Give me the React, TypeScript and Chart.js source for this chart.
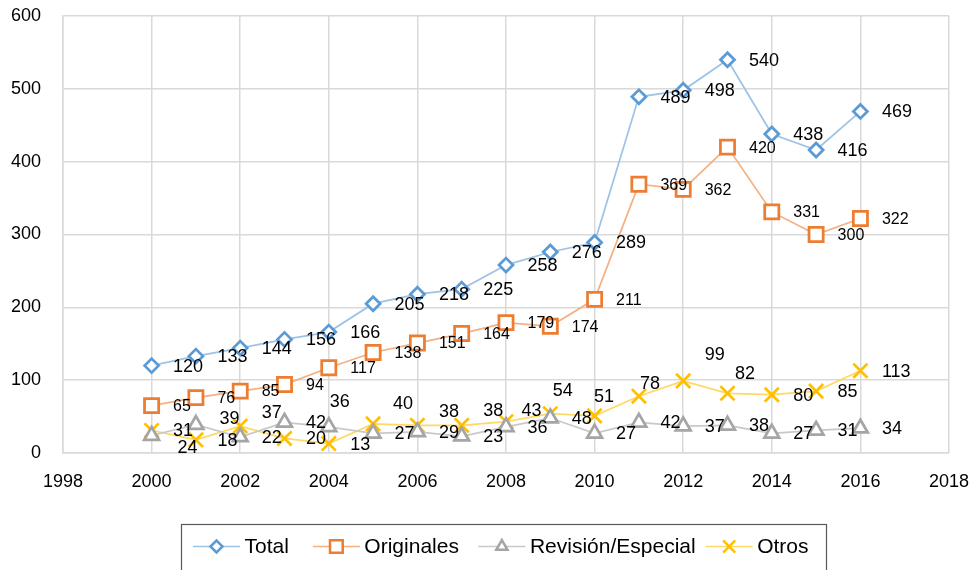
import React, { useEffect, useRef } from "react";
import { Chart, registerables } from "chart.js";

Chart.register(...registerables);

// ---------- data ----------
const YEARS = [2000, 2001, 2002, 2003, 2004, 2005, 2006, 2007, 2008, 2009, 2010, 2011, 2012, 2013, 2014, 2015, 2016];
const TOTAL = [120, 133, 144, 156, 166, 205, 218, 225, 258, 276, 289, 489, 498, 540, 438, 416, 469];
const ORIGINALES = [65, 76, 85, 94, 117, 138, 151, 164, 179, 174, 211, 369, 362, 420, 331, 300, 322];
const REVISION = [24, 39, 22, 42, 36, 27, 29, 23, 36, 48, 27, 42, 37, 38, 27, 31, 34];
const OTROS = [31, 18, 37, 20, 13, 40, 38, 38, 43, 54, 51, 78, 99, 82, 80, 85, 113];
const SERIES_NAMES = ["Total", "Originales", "Revisión/Especial", "Otros"];
const X_MIN = 1998;
const X_MAX = 2018;
const X_STEP = 2;
const Y_MIN = 0;
const Y_MAX = 600;
const Y_STEP = 100;

// ---------- styles ----------
const FONT = "'Liberation Sans', Arial, Helvetica, sans-serif";
const STYLES = [
  { line: "#9dc3e6", point: "#5b9bd5", shape: "rectRot", radius: 7, labelSize: 18, legendR: 6 },
  { line: "#f4b183", point: "#ed7d31", shape: "rect", radius: 10, labelSize: 16, legendR: 9 },
  { line: "#c9c9c9", point: "#a5a5a5", shape: "triangle", radius: 8.5, labelSize: 18, legendR: 6.5 },
  { line: "#ffd966", point: "#ffc000", shape: "crossRot", radius: 10, labelSize: 18, legendR: 8.5 },
];
// manual label nudges (relative to the default "right" placement)
const LABEL_NUDGES: Record<number, [number, number]>[] = [
  {},
  {},
  { 0: [4.5, 12], 1: [2, -7], 4: [-20.5, -26] },
  {
    2: [0, -14], 5: [-1.5, -21], 6: [0, -14], 7: [0, -15.7], 8: [-6, -12],
    9: [-19, -24], 10: [-22, -20], 11: [-20.5, -13], 12: [0, -26.7], 13: [-14, -20],
  },
];
const LEGEND_GAPS = [24, 19.5, 10, 0];

function drawMarker(ctx: CanvasRenderingContext2D, shape: string, x: number, y: number, r: number) {
  ctx.beginPath();
  if (shape === "rectRot") {
    ctx.moveTo(x - r, y);
    ctx.lineTo(x, y - r);
    ctx.lineTo(x + r, y);
    ctx.lineTo(x, y + r);
    ctx.closePath();
    ctx.fill();
    ctx.stroke();
  } else if (shape === "rect") {
    const h = r * Math.SQRT1_2;
    ctx.rect(x - h, y - h, 2 * h, 2 * h);
    ctx.fill();
    ctx.stroke();
  } else if (shape === "triangle") {
    const s = r * Math.sin(Math.PI / 3);
    ctx.moveTo(x, y - r);
    ctx.lineTo(x + s, y + r / 2);
    ctx.lineTo(x - s, y + r / 2);
    ctx.closePath();
    ctx.fill();
    ctx.stroke();
  } else {
    const h = r * Math.SQRT1_2;
    ctx.moveTo(x - h, y - h);
    ctx.lineTo(x + h, y + h);
    ctx.moveTo(x + h, y - h);
    ctx.lineTo(x - h, y + h);
    ctx.stroke();
  }
}

const overlayPlugin = {
  id: "overlay",
  afterDatasetsDraw(chart: any) {
    const ctx: CanvasRenderingContext2D = chart.ctx;
    ctx.save();
    // data labels
    chart.data.datasets.forEach((ds: any, di: number) => {
      const meta = chart.getDatasetMeta(di);
      ctx.font = `${STYLES[di].labelSize}px ${FONT}`;
      ctx.fillStyle = "#000";
      ctx.textAlign = "left";
      ctx.textBaseline = "middle";
      meta.data.forEach((pt: any, i: number) => {
        const nudge = LABEL_NUDGES[di][i] || [0, 0];
        const v = ds.data[i].y;
        ctx.fillText(String(v), pt.x + 21.5 + nudge[0], pt.y + 1 + nudge[1]);
      });
    });
    ctx.restore();
  },
  afterDraw(chart: any) {
    const ctx: CanvasRenderingContext2D = chart.ctx;
    ctx.save();
    // legend box
    ctx.strokeStyle = "#595959";
    ctx.lineWidth = 1.2;
    ctx.strokeRect(181.5, 524.5, 645, 70);
    // legend items
    const cy = 546.5;
    let x = 193;
    ctx.font = `21px ${FONT}`;
    ctx.textBaseline = "middle";
    ctx.textAlign = "left";
    SERIES_NAMES.forEach((name, i) => {
      const st = STYLES[i];
      ctx.strokeStyle = st.line;
      ctx.lineWidth = 1.5;
      ctx.beginPath();
      ctx.moveTo(x, cy);
      ctx.lineTo(x + 47, cy);
      ctx.stroke();
      ctx.strokeStyle = st.point;
      ctx.fillStyle = "#fff";
      ctx.lineWidth = 2.5;
      drawMarker(ctx, st.shape, x + 23.5, cy, st.legendR);
      ctx.fillStyle = "#000";
      ctx.fillText(name, x + 51.5, cy + 1);
      const w = ctx.measureText(name).width;
      x = x + 51.5 + w + LEGEND_GAPS[i];
    });
    ctx.restore();
  },
};

export default function App() {
  const ref = useRef<HTMLCanvasElement | null>(null);

  useEffect(() => {
    if (!ref.current) return;
    const series = [TOTAL, ORIGINALES, REVISION, OTROS];
    const chart = new Chart(ref.current, {
      type: "line",
      data: {
        datasets: series.map((vals, i) => ({
          label: SERIES_NAMES[i],
          data: YEARS.map((yr, j) => ({ x: yr, y: vals[j] })),
          borderColor: STYLES[i].line,
          borderWidth: 1.75,
          backgroundColor: "#fff",
          pointStyle: STYLES[i].shape as any,
          pointRadius: STYLES[i].radius,
          pointBorderColor: STYLES[i].point,
          pointBackgroundColor: "#fff",
          pointBorderWidth: 2.75,
          tension: 0,
          fill: false,
        })),
      },
      options: {
        responsive: false,
        animation: false,
        devicePixelRatio: 1,
        layout: { autoPadding: false, padding: { left: 0, right: 22, top: 16, bottom: 77 } },
        plugins: { legend: { display: false }, tooltip: { enabled: false } },
        scales: {
          x: {
            type: "linear",
            min: X_MIN,
            max: X_MAX,
            offset: false,
            afterFit: (s: any) => {
              s.height = 40;
              s.paddingLeft = 0;
              s.paddingRight = 0;
            },
            ticks: {
              stepSize: X_STEP,
              padding: 18,
              color: "#000",
              font: { family: FONT, size: 18 },
              callback: (v: any) => String(v),
              maxRotation: 0,
            },
            grid: { color: "#d9d9d9", lineWidth: 1.5, drawTicks: false },
            border: { color: "#d9d9d9", width: 1.5 },
          },
          y: {
            min: Y_MIN,
            max: Y_MAX,
            afterFit: (s: any) => {
              s.width = 63;
              s.paddingTop = 0;
              s.paddingBottom = 0;
            },
            ticks: {
              stepSize: Y_STEP,
              padding: 22,
              color: "#000",
              font: { family: FONT, size: 18 },
            },
            grid: { color: "#d9d9d9", lineWidth: 1.5, drawTicks: false },
            border: { color: "#d9d9d9", width: 1.5 },
          },
        },
      },
      plugins: [overlayPlugin],
    });
    return () => chart.destroy();
  }, []);

  return (
    <div style={{ position: "absolute", left: 0, top: 0, width: 971, height: 570, background: "#fff" }}>
      <canvas ref={ref} width={971} height={570} style={{ display: "block" }} />
    </div>
  );
}
